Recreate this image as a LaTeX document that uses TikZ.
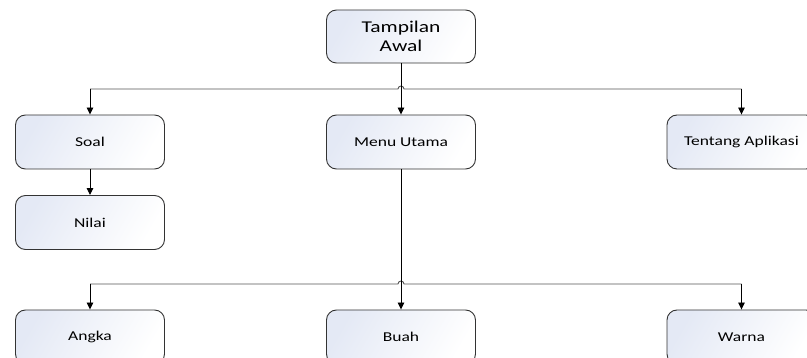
\documentclass[tikz,border=0pt]{standalone}
\usepackage{fontspec}
\setmainfont{Carlito}[FakeStretch=1.3]
\usetikzlibrary{arrows.meta}

\definecolor{boxfill}{HTML}{E4E9F5}
\definecolor{boxline}{HTML}{333333}
\definecolor{hline}{HTML}{555555}

\tikzset{
  box/.style={draw=boxline,line width=0.9pt,rounded corners=10pt,
    left color=boxfill,right color=white,shading angle=60,
    minimum width=149pt,minimum height=54pt,inner sep=0pt,
    font=\fontsize{13.5}{16}\selectfont},
  bigbox/.style={box,align=center,minimum height=53pt,
    font=\fontsize{16.5}{19}\selectfont},
  link/.style={draw=hline,line width=0.9pt},
  arr/.style={draw=black,line width=0.9pt,-{Triangle[width=6.5pt,length=7pt]}}
}

\begin{document}
\begin{tikzpicture}[x=1pt,y=-1pt]
  \useasboundingbox (0,0) rectangle (807,358);

  %% top
  \node[bigbox] (awal) at (401,36.5) {Tampilan\\Awal};

  %% second row
  \node[box] (soal) at (90,142) {Soal};
  \node[box] (menu) at (401,142) {Menu Utama};
  \node[box] (tentang) at (741.5,142) {Tentang Aplikasi};
  \node[box] (nilai) at (90,222.5) {Nilai};

  %% bottom row
  \node[box] (angka) at (90,337) {Angka};
  \node[box] (buah) at (401,337) {Buah};
  \node[box] (warna) at (741.5,337) {Warna};

  %% branch points
  \coordinate (hub1) at (401,89);
  \coordinate (hub2) at (401,284);

  %% from Tampilan Awal
  \draw[link] (soal.north |- hub1) -- ([xshift=-3pt]hub1) arc (180:0:3pt)
    -- (tentang.north |- hub1);
  \draw[arr] (awal.south) -- (menu.north);
  \draw[arr] (soal.north |- hub1) -- (soal.north);
  \draw[arr] (tentang.north |- hub1) -- (tentang.north);
  \draw[arr] (soal.south) -- (nilai.north);

  %% from Menu Utama
  \draw[link] (angka.north |- hub2) -- ([xshift=-3pt]hub2) arc (180:0:3pt)
    -- (warna.north |- hub2);
  \draw[arr] (menu.south) -- (buah.north);
  \draw[arr] (angka.north |- hub2) -- (angka.north);
  \draw[arr] (warna.north |- hub2) -- (warna.north);
\end{tikzpicture}
\end{document}
